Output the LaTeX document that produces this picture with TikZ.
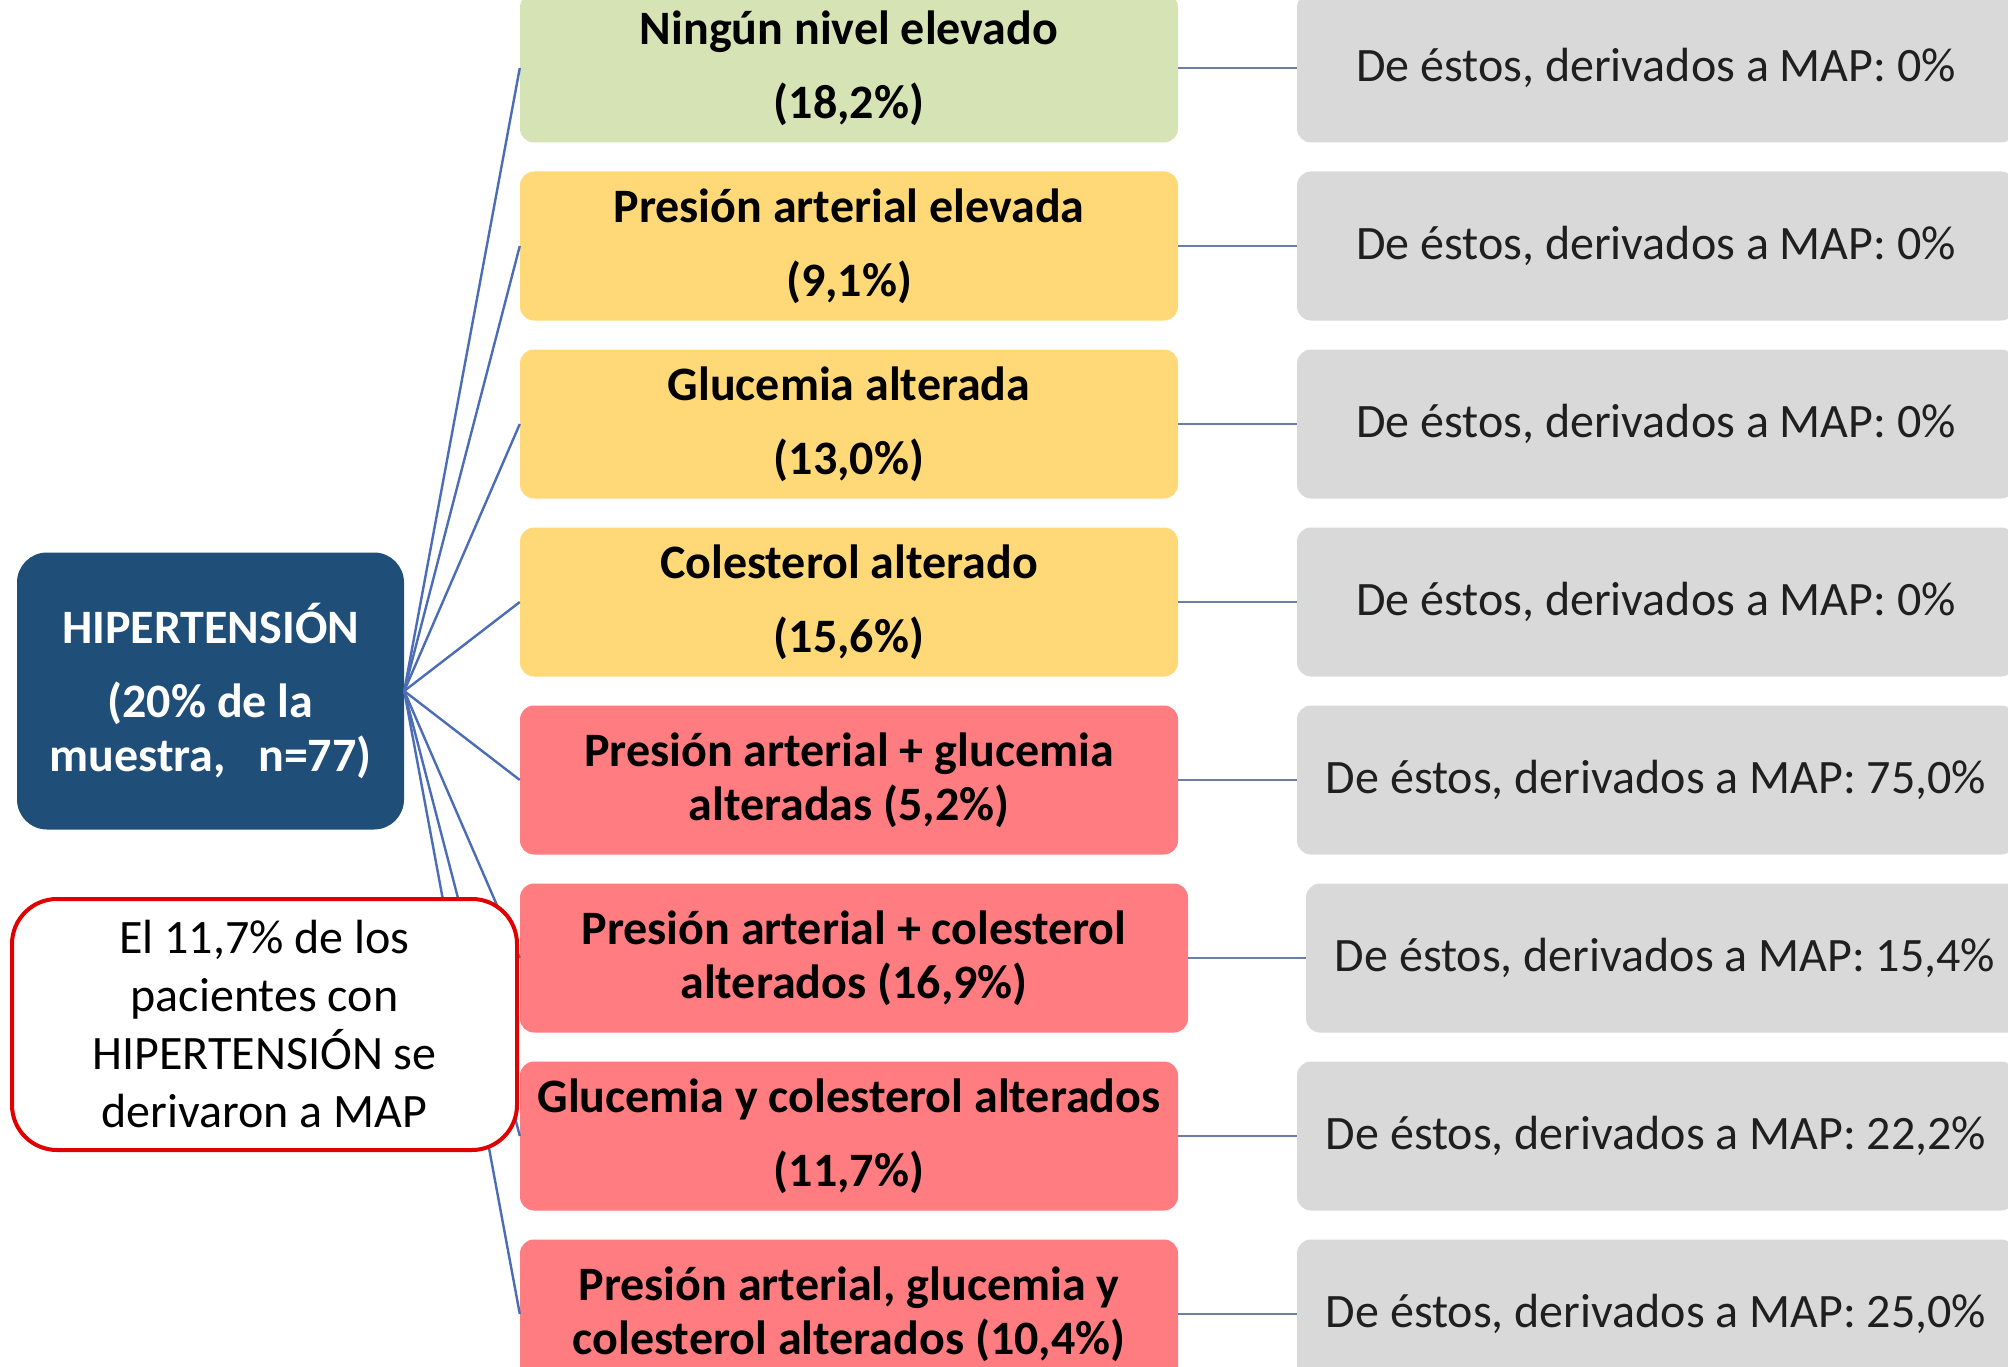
\documentclass[tikz,border=0pt]{standalone}
\usepackage{fontspec}
\setmainfont{Carlito}
\definecolor{hubblue}{HTML}{1F4E79}
\definecolor{boxgreen}{HTML}{D6E3B5}
\definecolor{boxyellow}{HTML}{FFD978}
\definecolor{boxred}{HTML}{FF7C80}
\definecolor{boxgray}{HTML}{D9D9D9}
\definecolor{spoke}{HTML}{4A6DB5}
\definecolor{hline}{HTML}{6A7FA3}
\definecolor{redline}{HTML}{E00000}
\tikzset{
  catbox/.style={rectangle, rounded corners=14pt, minimum height=149pt, inner sep=0pt,
    align=center, font=\fontsize{48}{54}\selectfont\bfseries, text=black},
  graybox/.style={rectangle, rounded corners=14pt, fill=boxgray, minimum height=149pt,
    inner sep=0pt, align=center, font=\fontsize{48}{54}\selectfont, text=black!88},
  hubbox/.style={rectangle, rounded corners=30pt, fill=hubblue, minimum width=387pt,
    minimum height=277pt, inner sep=0pt, align=center, text=white,
    font=\fontsize{48}{54}\selectfont\bfseries},
  notebox/.style={rectangle, rounded corners=45pt, draw=redline, line width=4pt, fill=white,
    minimum width=505pt, minimum height=251pt, inner sep=0pt, align=center, text=black,
    font=\fontsize{48}{58}\selectfont},
  spokeline/.style={draw=spoke, line width=2.4pt},
  linkline/.style={draw=hline, line width=2.6pt}
}
\begin{document}
\begin{tikzpicture}[x=1pt,y=-1pt]
\clip (0,0) rectangle (2008,1367);
\fill[white] (0,0) rectangle (2008,1367);

% hub
\node[hubbox] (hub) at (210.5,691) {HIPERTENSIÓN\\[20pt](20\% de la\\muestra,\ \ \ n=77)};

% category boxes
\node[catbox, fill=boxgreen, minimum width=658pt] (c1) at (849,68) {Ningún nivel elevado\\[20pt](18,2\%)};
\node[catbox, fill=boxyellow, minimum width=658pt] (c2) at (849,246) {Presión arterial elevada\\[20pt](9,1\%)};
\node[catbox, fill=boxyellow, minimum width=658pt] (c3) at (849,424) {Glucemia alterada\\[20pt](13,0\%)};
\node[catbox, fill=boxyellow, minimum width=658pt] (c4) at (849,602) {Colesterol alterado\\[20pt](15,6\%)};
\node[catbox, fill=boxred, minimum width=658pt] (c5) at (849,780) {Presión arterial + glucemia\\alteradas (5,2\%)};
\node[catbox, fill=boxred, minimum width=668pt] (c6) at (854,958) {Presión arterial + colesterol\\alterados (16,9\%)};
\node[catbox, fill=boxred, minimum width=658pt] (c7) at (849,1136) {Glucemia y colesterol alterados\\[20pt](11,7\%)};
\node[catbox, fill=boxred, minimum width=658pt] (c8) at (849,1314) {Presión arterial, glucemia y\\colesterol alterados (10,4\%)};

% gray result boxes
\node[graybox, minimum width=718pt] (g1) at (1656,68) {De éstos, derivados a MAP: 0\%};
\node[graybox, minimum width=718pt] (g2) at (1656,246) {De éstos, derivados a MAP: 0\%};
\node[graybox, minimum width=718pt] (g3) at (1656,424) {De éstos, derivados a MAP: 0\%};
\node[graybox, minimum width=718pt] (g4) at (1656,602) {De éstos, derivados a MAP: 0\%};
\node[graybox, minimum width=718pt] (g5) at (1656,780) {De éstos, derivados a MAP: 75,0\%};
\node[graybox, minimum width=718pt] (g6) at (1665,958) {De éstos, derivados a MAP: 15,4\%};
\node[graybox, minimum width=718pt] (g7) at (1656,1136) {De éstos, derivados a MAP: 22,2\%};
\node[graybox, minimum width=718pt] (g8) at (1656,1314) {De éstos, derivados a MAP: 25,0\%};

% spokes
\foreach \i in {1,...,8} {
  \draw[spokeline] (hub.east) -- (c\i.west);
  \draw[linkline] (c\i.east) -- (g\i.west);
}

% note box drawn over the spokes
\node[notebox] (note) at (264.5,1024.5) {El 11,7\% de los\\pacientes con\\HIPERTENSIÓN se\\derivaron a MAP};
\end{tikzpicture}
\end{document}
